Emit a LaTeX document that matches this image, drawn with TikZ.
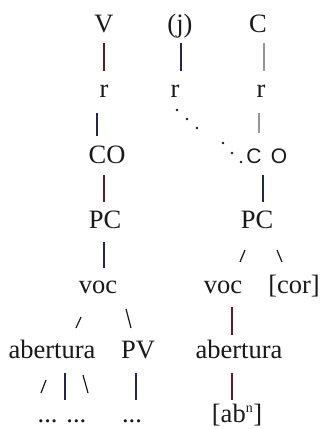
\documentclass[tikz,border=0pt]{standalone}
\usepackage{fontspec}
\setmainfont{Liberation Serif}
\newfontfamily\cosans{Liberation Sans}
\definecolor{barmaroon}{RGB}{95,28,38}
\definecolor{barnavy}{RGB}{35,38,85}
\definecolor{barlight}{RGB}{150,150,150}
\definecolor{txt}{RGB}{25,25,25}
\begin{document}
\begin{tikzpicture}[x=1pt,y=-1pt,
  lab/.style={anchor=base,inner sep=0pt,text=txt,font=\fontsize{26.5}{30}\selectfont},
  sanslab/.style={anchor=base,inner sep=0pt,text=txt,font=\cosans\fontsize{21}{24}\selectfont},
  bar/.style={line width=1.3pt,barmaroon},
  nbar/.style={line width=1.3pt,barnavy},
  lbar/.style={line width=1.1pt,barlight},
  slash/.style={line width=1.2pt,txt},
  dotmark/.style={fill=txt,draw=none}]
\useasboundingbox (0,0) rectangle (320,429);
\fill[white] (0,0) rectangle (320,429);
% row 1
\node[lab] (V) at (104,32) {V};
\node[lab] (J) at (180,32) {(j)};
\node[lab] (C) at (258,32) {C};
% row 2
\node[lab] (r1) at (104,97) {r};
\node[lab] (r2) at (175,97) {r};
\node[lab] (r3) at (261,97) {r};
% row 3
\node[lab] (CO) at (107,163) {CO};
\node[sanslab] (Cs) at (254,163) {C};
\node[sanslab] (Os) at (279,163) {O};
% row 4
\node[lab] (PC1) at (105,228) {PC};
\node[lab] (PC2) at (257,228) {PC};
% row 5
\node[lab] (voc1) at (98,293) {voc};
\node[lab] (voc2) at (223,293) {voc};
\node[lab] (cor) at (294,293) {[cor]};
% row 6
\node[lab] (ab1) at (52,358) {abertura};
\node[lab] (PV) at (138,358) {PV};
\node[lab] (ab2) at (239,358) {abertura};
% row 7
\node[lab] (dl) at (62,422) {... ...};
\node[lab] (dr) at (132,422) {...};
\node[lab] (abn) at (237,422) {[ab\textsuperscript{\fontsize{14}{14}\selectfont n}]};
% bars
\draw[bar]  (V.base)  ++(0,11)  -- ++(0,28);
\draw[nbar] (J.base)  ++(1,11)  -- ++(0,28);
\draw[lbar] (C.base)  ++(6,11)  -- ++(0,28);
\draw[nbar] (r1.base) ++(-7,16) -- ++(0,23);
\draw[lbar] (r3.base) ++(-2,16) -- ++(0,20);
\draw[bar]  (CO.base) ++(-3,12) -- ++(0,27);
\draw[nbar] (Cs.base) ++(9,12)  -- ++(0,27);
\draw[nbar] (PC1.base) ++(-1,14) -- ++(0,26);
\draw[bar]  (voc2.base) ++(9,14) -- ++(0,28);
\draw[nbar] (ab1.base) ++(13,15) -- ++(0,27);
\draw[nbar] (PV.base) ++(-2,15) -- ++(0,27);
\draw[bar]  (ab2.base) ++(-7,15) -- ++(0,27);
% slashes
\draw[slash] (PC2.base) ++(-12,22) -- ++(-5,12);
\draw[slash] (PC2.base) ++(20,22) -- ++(5,12);
\draw[slash] (voc1.base) ++(-17,24) -- ++(-5,11);
\draw[slash] (voc1.base) ++(28,16) -- ++(5,19);
\draw[slash] (ab1.base) ++(-6,22) -- ++(-5,13);
\draw[slash] (ab1.base) ++(31,17) -- ++(5,18);
% dotted link from r to C O
\foreach \p in {(177,110),(187,119),(197,128),(223,143),(232,153),(241,162)}
  \fill[dotmark] \p circle (1.3);
\end{tikzpicture}
\end{document}
